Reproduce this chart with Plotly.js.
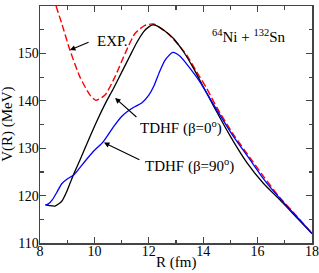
<!DOCTYPE html>
<html>
<head>
<meta charset="utf-8">
<script src="https://cdn.plot.ly/plotly-3.0.1.min.js"></script>
<style>html,body{margin:0;padding:0;background:#fff;}#chart{width:319px;height:273px;}</style>
</head>
<body>
<div id="chart"></div>
<script>
// Experimental potential (red dashed)
const expR = [8.59, 8.8, 9.1, 9.47, 9.84, 10.05, 10.39, 10.76, 11.13, 11.49, 11.86, 12.17, 12.66, 13.03, 13.39, 13.76, 14.13, 14.5, 15.11, 15.72, 16.21, 16.8, 17.4, 18];
const expV = [160, 156.3, 150.7, 145.0, 141.2, 140.1, 141.2, 145.1, 150.0, 154.2, 155.9, 156.2, 154.4, 152.2, 149.7, 146.1, 142.6, 138.6, 132.9, 128.0, 124.1, 119.7, 115.9, 112.0];
// TDHF beta = 0 deg (black)
const b0R = [8.2, 8.35, 8.55, 8.8, 8.98, 9.2, 9.47, 9.78, 10.08, 10.39, 10.7, 11.0, 11.3, 11.55, 11.8, 12.0, 12.15, 12.3, 12.53, 12.9, 13.27, 13.64, 14.0, 14.37, 14.99, 15.6, 16.21, 16.82, 17.4, 18];
const b0V = [118.1, 117.9, 117.8, 118.8, 120.8, 124.0, 127.5, 131.7, 135.6, 139.3, 142.6, 146.0, 149.4, 152.2, 154.5, 155.6, 156.0, 155.8, 155.0, 153.2, 150.4, 146.9, 143.0, 139.0, 132.6, 127.0, 122.6, 119.1, 115.6, 112.0];
// TDHF beta = 90 deg (blue)
const b90R = [8.2, 8.3, 8.45, 8.61, 8.8, 9.0, 9.23, 9.59, 9.96, 10.33, 10.7, 11.0, 11.25, 11.5, 11.75, 12.0, 12.2, 12.4, 12.6, 12.88, 13.15, 13.51, 13.88, 14.5, 15.11, 15.72, 16.21, 16.82, 17.4, 18];
const b90V = [118.0, 118.2, 119.1, 120.6, 122.5, 123.5, 124.3, 126.8, 129.3, 131.4, 134.5, 136.7, 137.9, 138.8, 139.6, 141.2, 143.3, 146.2, 148.6, 150.2, 149.4, 146.9, 144.0, 138.1, 132.5, 127.6, 123.6, 119.4, 115.8, 112.0];

const xTicks = [8, 10, 12, 14, 16, 18];
const yTicks = [110, 120, 130, 140, 150, 160];

const FONT = '"Liberation Serif", "Times New Roman", Times, serif';

const traces = [
  {x: expR, y: expV, mode: 'lines', line: {color: '#ff0000', width: 1.4, dash: '7px,3px', shape: 'spline', smoothing: 0.6}, hoverinfo: 'none'},
  {x: b0R, y: b0V, mode: 'lines', line: {color: '#000000', width: 1.3, shape: 'spline', smoothing: 0.6}, hoverinfo: 'none'},
  {x: b90R, y: b90V, mode: 'lines', line: {color: '#0000ff', width: 1.3, shape: 'spline', smoothing: 0.6}, hoverinfo: 'none'}
];

const axisCommon = {
  showline: true, linecolor: '#444', linewidth: 1.5, mirror: 'allticks',
  ticks: 'inside', ticklen: 6, tickwidth: 1.2, tickcolor: '#444',
  showgrid: false, zeroline: false,
  tickfont: {family: FONT, size: 14, color: '#000'}
};

const arrowStyle = {showarrow: true, arrowhead: 2, arrowsize: 1, arrowwidth: 1.1, arrowcolor: '#000', axref: 'x', ayref: 'y', text: ''};
const txtFont = {family: FONT, size: 15, color: '#000'};

const layout = {
  width: 319, height: 273,
  margin: {l: 40, r: 7, t: 6, b: 30},
  paper_bgcolor: '#fff', plot_bgcolor: '#fff',
  showlegend: false,
  font: {family: FONT},
  xaxis: Object.assign({}, axisCommon, {
    range: [8, 18], tickvals: xTicks, ticktext: xTicks.map(String),
    ticklabelstandoff: -5,
    minor: {dtick: 1, tick0: 8, ticks: 'inside', ticklen: 3.5, tickwidth: 1.2, tickcolor: '#444'}
  }),
  yaxis: Object.assign({}, axisCommon, {
    range: [110, 160], tickvals: yTicks, ticktext: yTicks.map(String),
    ticklabelstandoff: -3,
    minor: {dtick: 5, tick0: 110, ticks: 'inside', ticklen: 3.5, tickwidth: 1.2, tickcolor: '#444'}
  }),
  annotations: [
    {x: 0.5, y: -0.084, xref: 'paper', yref: 'paper', text: 'R (fm)', showarrow: false, xanchor: 'center', yanchor: 'middle', font: txtFont},
    {x: -0.12, y: 0.5, xref: 'paper', yref: 'paper', text: 'V(R) (MeV)', textangle: -90, showarrow: false, xanchor: 'center', yanchor: 'middle', font: txtFont},
    Object.assign({}, arrowStyle, {x: 9.10, y: 150.7, ax: 9.84, ay: 152.5}),
    {x: 10.02, y: 152.6, xref: 'x', yref: 'y', text: 'EXP.', showarrow: false, xanchor: 'left', yanchor: 'middle', font: txtFont},
    Object.assign({}, arrowStyle, {x: 10.76, y: 140.6, ax: 11.6, ay: 136.3}),
    {x: 11.6, y: 134.4, xref: 'x', yref: 'y', text: 'TDHF (β=0<sup>o</sup>)', showarrow: false, xanchor: 'left', yanchor: 'middle', font: txtFont},
    Object.assign({}, arrowStyle, {x: 10.35, y: 131.2, ax: 11.71, ay: 127.4}),
    {x: 11.79, y: 126.3, xref: 'x', yref: 'y', text: 'TDHF (β=90<sup>o</sup>)', showarrow: false, xanchor: 'left', yanchor: 'middle', font: txtFont},
    {x: 14.25, y: 153.6, xref: 'x', yref: 'y', text: '<sup>64</sup>Ni + <sup>132</sup>Sn', showarrow: false, xanchor: 'left', yanchor: 'middle', font: txtFont}
  ]
};

Plotly.newPlot('chart', traces, layout, {staticPlot: true, displayModeBar: false});
</script>
</body>
</html>
